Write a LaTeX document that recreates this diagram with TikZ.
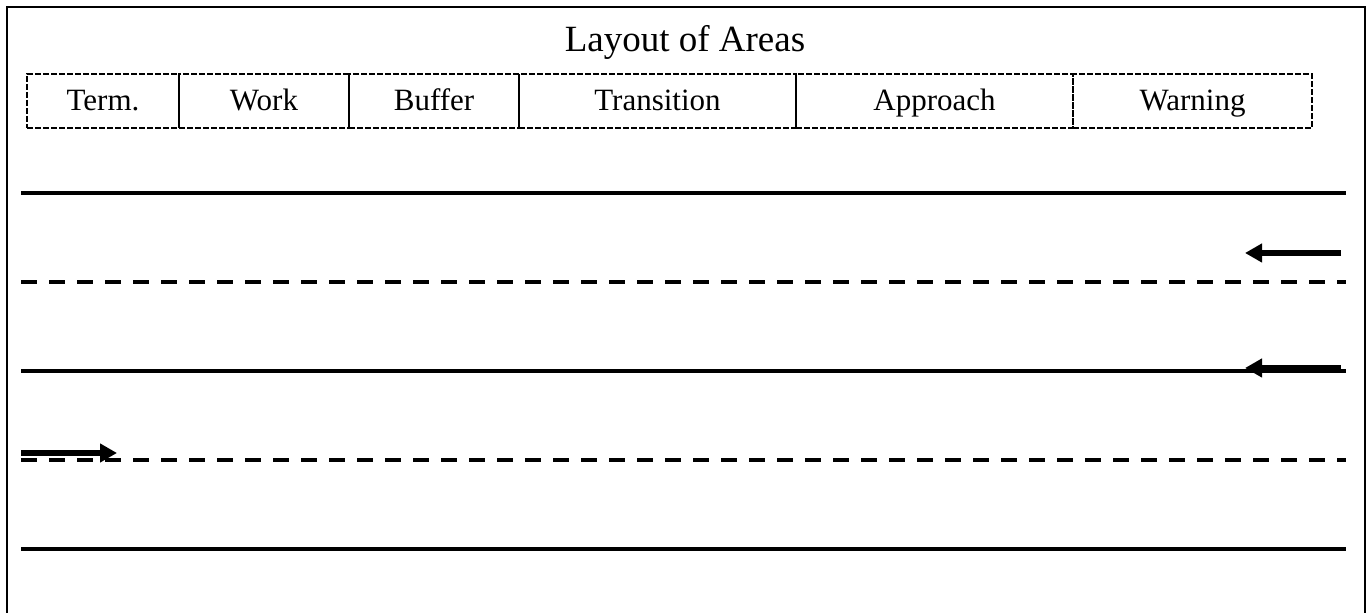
\documentclass[tikz,border=0pt]{standalone}
\usepackage{fontspec}
\setmainfont{Liberation Serif}
\usetikzlibrary{positioning,arrows.meta}

\begin{document}
\begin{tikzpicture}[x=0.5pt, y=-0.5pt,
    area/.style={draw, line width=0.6pt, dash pattern=on 3pt off 1pt, inner sep=0pt, outer sep=0pt,
      minimum height=27pt, text height=11pt, text depth=1.5pt, font=\fontsize{15.5}{18}\selectfont},
    edgeline/.style={line width=2pt},
    laneline/.style={line width=2pt, dash pattern=on 8pt off 6pt},
    flow/.style={line width=2.75pt, -{Triangle[length=8.5pt, width=9pt]}}]
\useasboundingbox (0,0) rectangle (1368,613);
\draw[line width=1pt] (7,613) -- (7,7) -- (1365,7) -- (1365,613);
\node[anchor=base, font=\fontsize{18.5}{22}\selectfont] (title) at (685,52) {Layout of Areas};
% areas
\node[area, minimum width=76pt, anchor=north west] (term) at (27,74) {Term.};
\node[area, minimum width=85pt, right=0pt of term] (work) {Work};
\node[area, minimum width=85pt, right=0pt of work] (buffer) {Buffer};
\node[area, minimum width=138.5pt, right=0pt of buffer] (transition) {Transition};
\node[area, minimum width=138.5pt, right=0pt of transition] (approach) {Approach};
\node[area, minimum width=119.5pt, right=0pt of approach] (warning) {Warning};
% lanes
\foreach \y/\s in {193/edgeline, 282/laneline, 371/edgeline, 460/laneline, 549/edgeline}
  \draw[\s] (21,\y) -- (1346,\y);
\draw[flow] (1341,253) -- (1245,253);
\draw[flow] (1341,368) -- (1245,368);
\draw[flow] (21,453) -- (117,453);
\end{tikzpicture}
\end{document}
